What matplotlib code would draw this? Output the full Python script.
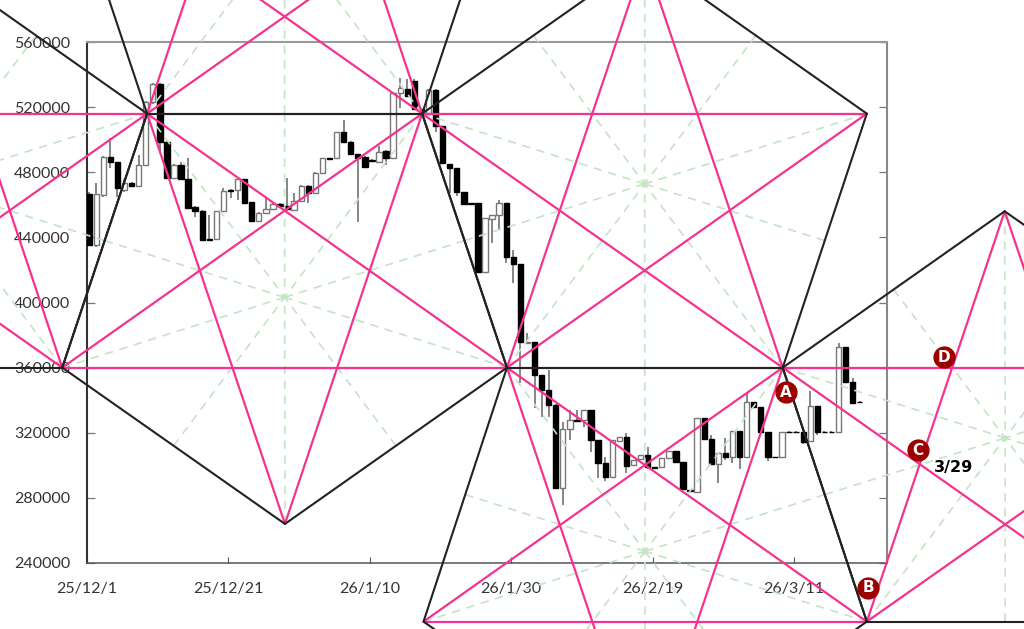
#!/usr/bin/env python3
# -*- coding: utf-8 -*-
import numpy as np
from matplotlib import pyplot as plt

# candles, prices in thousands
opens = [466.6, 435.5, 466, 489.2, 486, 469, 473.4, 471.5, 484.4, 523,
         534.2, 498.6, 476.4, 484.4, 475.8, 458.6, 456.2, 439, 439, 456.2,
         469.1, 469.1, 475.8, 461.7, 450, 455, 457.4, 460.5, 459.2, 456.8,
         462.3, 471.5, 467.2, 479.5, 488.7, 488.7, 504.7, 498.6, 491.2, 489.3,
         487.5, 486.3, 493, 488.7, 528.7, 531.1, 536, 518.8, 516.4, 530.5,
         508.4, 485, 482.6, 467.8, 461, 461.1, 418.7, 451.3, 453.7, 461.1,
         427.9, 423.6, 375.1, 375.7, 355.4, 346.2, 337, 286, 322.2, 328,
         327.8, 333.9, 315.5, 301.3, 292.7, 314.9, 317.3, 300.1, 303.8, 306.2,
         299, 298.9, 304.4, 308.7, 301.9, 284.8, 283.5, 329, 316, 300.7,
         307.5, 305, 321, 305, 338.8, 335.7, 320.4, 305.2, 305, 320.6,
         320.6, 320.4, 314.8, 336.3, 320.6, 320.6, 320.4, 372.6, 351.1, 339]
highs = [468, 473.4, 490, 501, 486.5, 476, 474, 490.6, 524, 535,
         535, 499, 485, 486.3, 488.7, 459, 457, 453.7, 456.5, 470.3,
         469.5, 476, 476, 462, 455.5, 464.8, 461, 461, 476.4, 467.2,
         472, 472, 480, 489, 489, 505, 512.1, 499, 491.5, 490,
         488, 496.1, 493.5, 529, 537.9, 537, 537, 519, 531, 531,
         508.6, 485.2, 482.8, 468, 461.2, 461.3, 452, 453.9, 462.9, 461.3,
         432.2, 423.8, 381.2, 375.9, 355.6, 358.5, 337.5, 326.5, 333.9, 333.9,
         334.1, 334.1, 315.7, 305, 315.7, 317.5, 319.8, 303.4, 306.4, 311.2,
         299.2, 304.6, 308.9, 308.9, 302.1, 285, 329.2, 329.2, 318.5, 307.7,
         316.7, 321.2, 321.2, 344.3, 339, 335.9, 320.6, 305.4, 320.6, 320.8,
         320.8, 320.6, 345.6, 336.5, 320.8, 320.8, 375, 372.8, 353.6, 339.2]
lows = [434.6, 434.2, 465, 482.5, 464.8, 468, 471, 471, 483.9, 522,
        492.4, 476, 476, 475, 457.5, 452.5, 437.5, 438, 438.5, 456,
        464, 462.9, 460.5, 449.5, 449.7, 454.5, 457, 459, 456.5, 456,
        462, 461, 467, 479, 488, 488.5, 498, 491, 449.4, 482.5,
        486.5, 486, 484.4, 488.5, 519.4, 526, 518, 518, 516, 504.7,
        485.5, 467.2, 465.4, 460.3, 460.3, 418.5, 418.5, 436.5, 444.5, 424.2,
        411.9, 350.5, 375, 335.1, 329.6, 329.6, 285.8, 275.5, 315.5, 327,
        323.5, 308, 292.1, 290.3, 292.5, 314.7, 295.2, 299.9, 303.6, 298,
        298.3, 298.7, 304.2, 301.7, 285.2, 284.1, 283.3, 315.8, 300.5, 289,
        303, 301.3, 297.7, 304.8, 335.5, 320.2, 302.6, 304.6, 304.8, 320,
        320, 313, 314.6, 318.5, 320, 320, 320.2, 350.9, 338, 338.4]
closes = [435.5, 466.6, 489.2, 486, 470.3, 473.4, 471.5, 484.4, 523, 534.2,
          498.6, 476.4, 484.4, 475.8, 458, 456.2, 438.3, 438.3, 456.2, 468.5,
          468.5, 475.8, 461, 450, 455, 457.4, 460.5, 459.2, 457.4, 462.3,
          471.5, 467.2, 479.5, 488.7, 488.1, 504.7, 498.6, 491.2, 488.7, 483.2,
          486.9, 492.4, 488.7, 528.7, 531.7, 526.8, 518.8, 518.2, 530.5, 508.4,
          485.7, 482.6, 467.8, 460.5, 460.5, 418.7, 451.9, 453.7, 461.1, 427.9,
          423.6, 375.7, 375.7, 355.4, 346.2, 337, 286, 322.2, 327.8, 327.5,
          333.9, 315.5, 301.3, 292.7, 315.5, 317.3, 299.5, 303.2, 306.2, 298.9,
          298.5, 304.4, 308.7, 301.9, 285.4, 284.3, 329, 316, 300.7, 307.5,
          305, 321, 305, 338.8, 335.7, 320.4, 305, 304.8, 320.4, 320.2,
          320.2, 314.2, 336.3, 320.4, 320.2, 320.2, 372.6, 351.1, 338.2, 338.6]

x_ticks = [0, 20, 40, 60, 80, 100]
x_labels = ['25/12/1', '25/12/21', '26/1/10', '26/1/30', '26/2/19', '26/3/11']
y_ticks = [240, 280, 320, 360, 400, 440, 480, 520, 560]
y_labels = ['240000', '280000', '320000', '360000', '400000', '440000', '480000', '520000', '560000']

# pentagon corners (day number, price in thousands), walked around the outline
pentagons = [
    [(-54.5, 516), (-22.9, 612), (8.5, 516), (-3.5, 360), (-42.5, 360)],
    [(8.5, 516), (-3.5, 672), (28, 768), (59.4, 672), (47.4, 516)],
    [(8.5, 516), (47.4, 516), (59.4, 360), (28, 264), (-3.5, 360)],
    [(47.4, 516), (78.9, 612), (110.3, 516), (98.4, 360), (59.4, 360)],
    [(59.4, 360), (98.4, 360), (110.3, 204), (78.9, 108), (47.6, 204)],
    [(98.4, 360), (129.8, 456), (161.4, 360), (149.4, 204), (110.3, 204)],
]

point_names = ['A', 'B', 'C', 'D']
point_x = [98.8, 110.5, 117.5, 121.2]
point_y = [345, 224.7, 309.3, 366.5]
date_note = '3/29'
date_note_x = 122.6
date_note_y = 298.9

PINK = '#f5338f'
BLACK = '#222222'
GREEN = '#c4e4c4'


def plot_candles(ax):
    xs = np.arange(len(opens)) + 0.3
    for x, o, h, l, c in zip(xs, opens, highs, lows, closes):
        up = c > o
        ax.vlines(x, l, h, color='#666666', lw=1.1, zorder=2)
        ax.bar(x, max(abs(c - o), 0.5), bottom=min(o, c), width=0.76,
               facecolor='white' if up else 'black', edgecolor='#777777' if up else 'black',
               lw=1.0, zorder=3)


def plot_pentagon(ax, corners):
    pts = np.array(corners, dtype=float)
    n = len(pts)
    center = pts.mean(axis=0)
    # rays from corners and edge midpoints in to the centre
    for i in range(n):
        mid = (pts[i] + pts[(i + 1) % n]) / 2
        for end in (pts[i], mid):
            ax.plot([end[0], center[0]], [end[1], center[1]], color=GREEN, lw=1.2,
                    dashes=(5, 4), clip_on=False, zorder=4)
    # star
    for i in range(n):
        j = (i + 2) % n
        ax.plot([pts[i, 0], pts[j, 0]], [pts[i, 1], pts[j, 1]], color=PINK, lw=1.6,
                clip_on=False, zorder=5, solid_capstyle='round')
    # outline
    for i in range(n):
        j = (i + 1) % n
        ax.plot([pts[i, 0], pts[j, 0]], [pts[i, 1], pts[j, 1]], color=BLACK, lw=1.5,
                clip_on=False, zorder=6, solid_capstyle='round')


def main():
    fig = plt.figure(figsize=(10.24, 6.29), dpi=100)
    ax = fig.add_axes([87 / 1024, (629 - 563) / 629, 800 / 1024, 521 / 629])
    ax.set_xlim(0, 800 / 7.07)
    ax.set_ylim(240, 560)

    plot_candles(ax)
    for corners in pentagons:
        plot_pentagon(ax, corners)

    for name, x, y in zip(point_names, point_x, point_y):
        ax.plot(x, y, 'o', ms=15, mfc='#9c0000', mec='#9c0000', clip_on=False, zorder=8)
        ax.text(x, y, name, color='white', fontsize=11, fontweight='bold', family='DejaVu Sans',
                ha='center', va='center', zorder=9)
    ax.text(date_note_x, date_note_y, date_note, color='black', fontsize=11.5, fontweight='bold',
            family='DejaVu Sans', ha='center', va='center', zorder=9)

    ax.set_xticks(x_ticks)
    ax.set_xticklabels(x_labels, family='Lato', fontsize=11.5, color='#333333')
    ax.set_yticks(y_ticks)
    ax.set_yticklabels(y_labels, family='Lato', fontsize=11.5, color='#333333')
    ax.tick_params(axis='x', direction='in', length=4, width=0.8, color='#555555', pad=13.5)
    ax.tick_params(axis='y', direction='in', length=6, width=0.9, color='#777777', pad=12, right=True)

    ax.spines['left'].set_color('#333333')
    ax.spines['left'].set_linewidth(1.5)
    ax.spines['bottom'].set_color('#555555')
    ax.spines['bottom'].set_linewidth(1.1)
    ax.spines['top'].set_color('#999999')
    ax.spines['top'].set_linewidth(1.5)
    ax.spines['right'].set_color('#888888')
    ax.spines['right'].set_linewidth(1.5)

    plt.savefig('out.png', dpi=100)
    plt.close()


if __name__ == '__main__':
    main()
